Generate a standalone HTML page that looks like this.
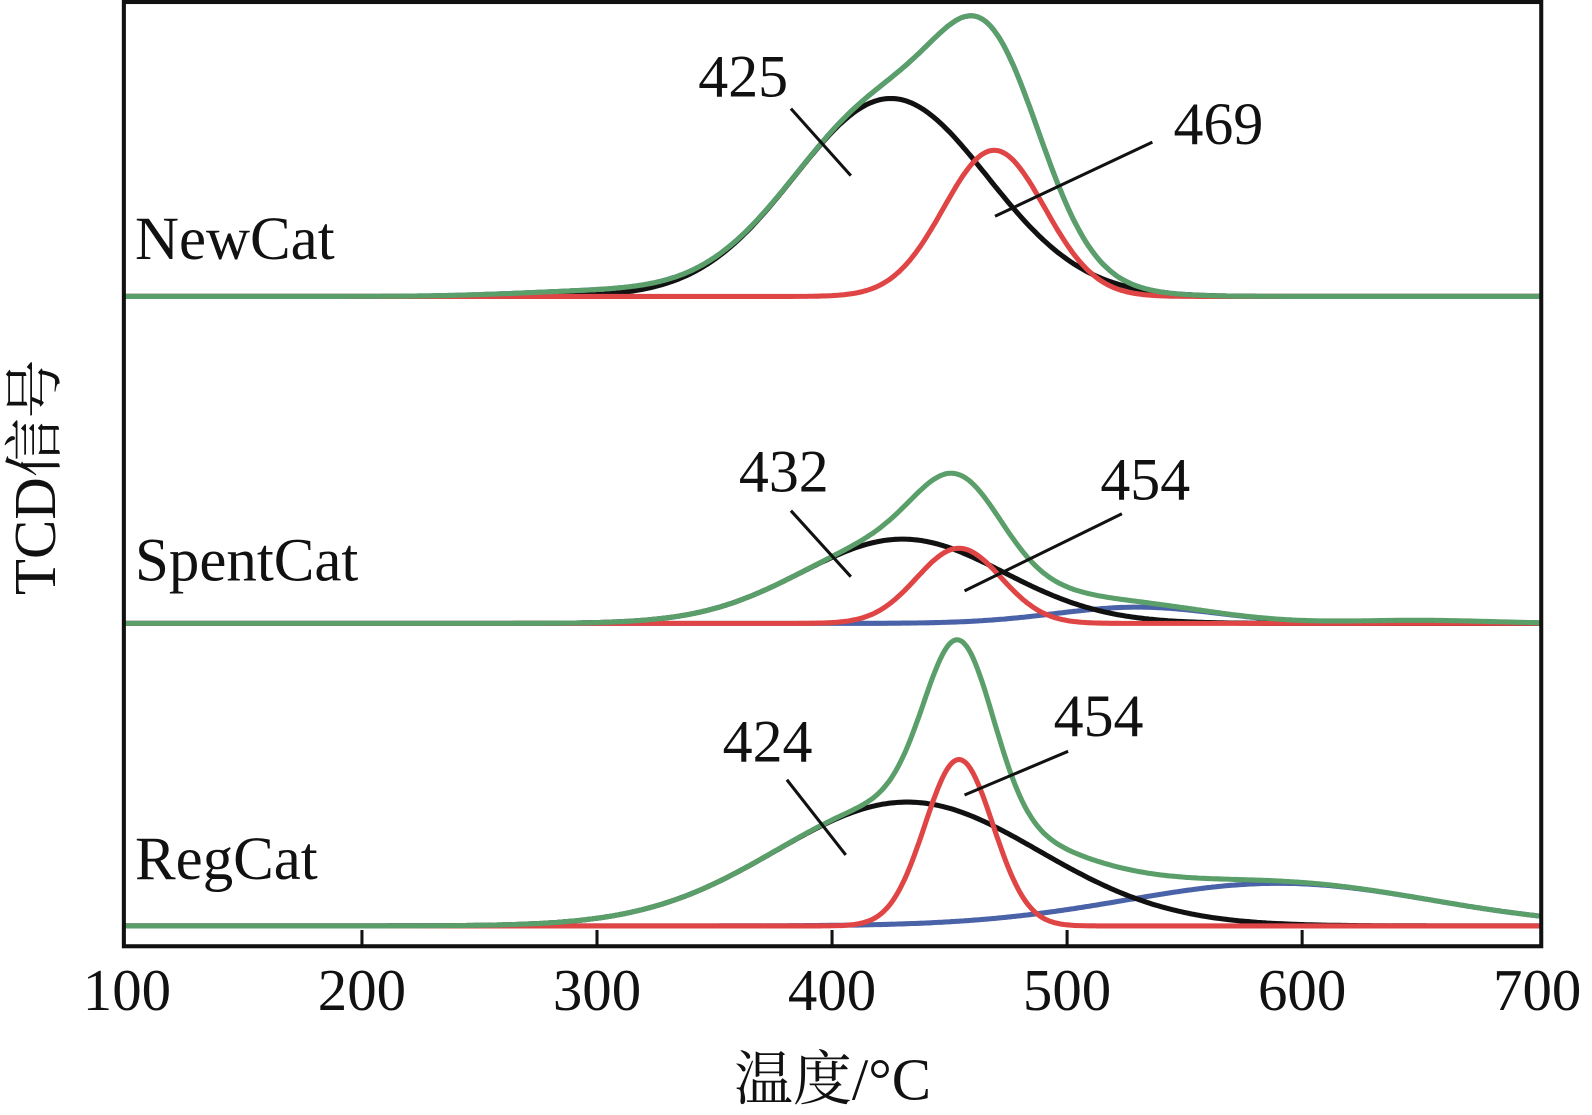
<!DOCTYPE html>
<html><head><meta charset="utf-8"><style>
html,body{margin:0;padding:0;background:#fff}
svg{display:block}
text{font-family:"Liberation Serif","Noto Serif CJK SC",serif;fill:#111}
</style></head><body>
<svg id="chart" width="1592" height="1115" viewBox="0 0 1568 1098.2" preserveAspectRatio="none" xmlns="http://www.w3.org/2000/svg">
<rect x="0" y="0" width="1568" height="1099" fill="#fff"/>
<g id="curves"></g>
<g id="frame"></g>
<g id="ann"></g>
<text transform="translate(54,470) rotate(-90)" text-anchor="middle" font-size="58">TCD信号</text>
<text x="820" y="1083" text-anchor="middle" font-size="58">温度/°C</text>
</svg>
<script>
const ticks=[100,200,300,400,500,600,700];
const sampleNames=["NewCat","SpentCat","RegCat"];
const baselines=[292,614,912];
// components per sample: [center, amplitude, sigma]
const blackComp=[[425,195,41],[430,83,43],[432,122,56]];
const redComp=[[469,144,21.5],[454,74,18],[454,164,14.5]];
const blueComp=[[300,5,35],[530,16,35],[590,42,65]];
const extraComp=[[460,9,22],[650,3,30],[0,0,1]];
const peakLabels=[["425","469"],["432","454"],["424","454"]];
const NS="http://www.w3.org/2000/svg";
const X=v=>125+(v-100)*2.315;
const g=(v,c)=>c[1]*Math.exp(-((v-c[0])**2)/(2*c[2]*c[2]));
function el(t,a,p){const e=document.createElementNS(NS,t);for(const k in a)e.setAttribute(k,a[k]);p.appendChild(e);return e;}
const cur=document.getElementById('curves');
function path(fn,b,color,name){
  let d="";for(let v=99;v<=701;v+=1){d+=(v===99?"M":"L")+X(v).toFixed(1)+","+(b-fn(v)).toFixed(1);}
  const p=el('path',{d:d,fill:'none',stroke:color,'stroke-width':5,'stroke-linejoin':'round'},cur);
  
  
}
const clip=el('clipPath',{id:'pc'},document.getElementById('chart'));
el('rect',{x:122,y:0,width:1396,height:932},clip);
cur.setAttribute('clip-path','url(#pc)');
for(let i=0;i<3;i++){
  const b=baselines[i];
  const fb=i===0?v=>g(v,blackComp[i])+g(v,redComp[i])+g(v,blueComp[i])+g(v,extraComp[i]):v=>g(v,blueComp[i]);
  path(fb,b,'#4a62a8',sampleNames[i].toLowerCase()+'-blue-curve');
  path(v=>g(v,blackComp[i]),b,'#111',sampleNames[i].toLowerCase()+'-black-curve');
  path(v=>g(v,redComp[i]),b,'#e04545',sampleNames[i].toLowerCase()+'-red-curve');
  path(v=>g(v,blackComp[i])+g(v,redComp[i])+g(v,blueComp[i])+g(v,extraComp[i]),b,'#5a9e6a',sampleNames[i].toLowerCase()+'-green-curve');
}
const fr=document.getElementById('frame');
el('rect',{x:122,y:2,width:1396,height:930,fill:'none',stroke:'#111','stroke-width':4},fr);
ticks.forEach(t=>{
  if(t>100&&t<700){const l=el('line',{x1:X(t),x2:X(t),y1:932,y2:916,stroke:'#111','stroke-width':3},fr);
  
  }
  const tx=el('text',{x:X(t),y:995,'text-anchor':'middle','font-size':58},fr);tx.textContent=t;
  
  
});
const an=document.getElementById('ann');
const nameY=[255,572,866];
const leaders=[[[779,107,838,173,732,95],[980,213,1135,140,1200,142]],[[779,503,838,568,772,484],[950,582,1105,506,1128,492]],[[775,768,833,842,756,750],[950,783,1052,740,1082,725]]];
for(let i=0;i<3;i++){
  const t=el('text',{x:133,y:nameY[i],'font-size':60},an);t.textContent=sampleNames[i];
  
  
  for(let j=0;j<2;j++){const L=leaders[i][j];
    const ln=el('line',{x1:L[0],y1:L[1],x2:L[2],y2:L[3],stroke:'#111','stroke-width':3},an);
    
    
    const pt=el('text',{x:L[4],y:L[5],'text-anchor':'middle','font-size':59},an);pt.textContent=peakLabels[i][j];
    
    
  }
}
</script>
</body></html>
